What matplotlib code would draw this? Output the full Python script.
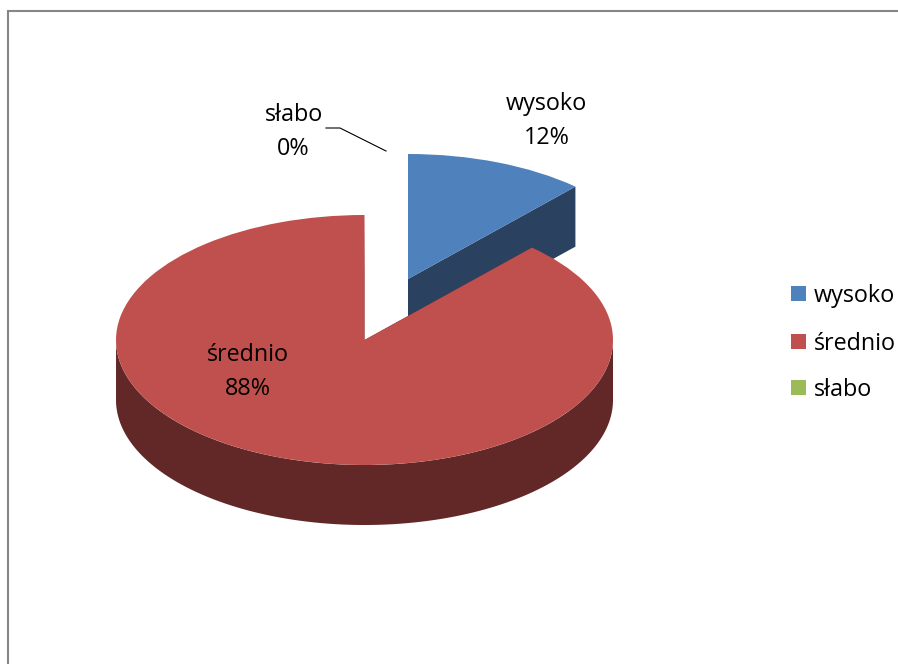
import numpy as np
import matplotlib
matplotlib.use("Agg")
import matplotlib.pyplot as plt
from matplotlib.patches import Wedge, Rectangle
from matplotlib.transforms import Affine2D

categories = ["wysoko", "średnio", "słabo"]
values = [2, 15, 0]

top_colors = ["#4F81BD", "#C0504D", "#9BBB59"]
side_colors = ["#2A4260", "#612827", "#51622F"]

plt.rcParams["font.family"] = ["Open Sans", "DejaVu Sans"]
W, H = 898, 664
fig = plt.figure(figsize=(W / 100, H / 100), dpi=100)
ax = fig.add_axes([0, 0, 1, 1])
ax.set_xlim(0, W)
ax.set_ylim(H, 0)
ax.axis("off")

RX, RY, DEPTH = 248.5, 125, 60
centers = [(408, 279), (364.5, 340), (386, 215)]
draw_order = [0, 2, 1]

fracs = np.array(values, dtype=float) / sum(values)
ends = np.cumsum(fracs) * 360
starts = ends - fracs * 360
percent_labels = [f"{round(f * 100)}%" for f in fracs]


def rim(cx, cy, t):
    r = np.radians(t)
    return cx + RX * np.sin(r), cy - RY * np.cos(r)


for i in draw_order:
    if values[i] == 0:
        continue
    cx, cy = centers[i]
    a, b = starts[i], ends[i]
    # side faces
    for t in (a, b):
        x, y = rim(cx, cy, t)
        ax.fill([cx, x, x, cx], [cy, y, y + DEPTH, cy + DEPTH],
                color=side_colors[i], lw=0, zorder=2 + i)
    # outer rim, front part only
    ts = np.linspace(a, b, 400)
    ts = ts[(ts % 360 > 90) & (ts % 360 < 270)]
    if ts.size:
        x, y = rim(cx, cy, ts)
        ax.fill(np.r_[x, x[::-1]], np.r_[y, y[::-1] + DEPTH],
                color=side_colors[i], lw=0, zorder=2 + i)
    # top face
    tr = Affine2D().scale(RX, -RY).translate(cx, cy) + ax.transData
    ax.add_patch(Wedge((0, 0), 1, 90 - b, 90 - a, transform=tr,
                       facecolor=top_colors[i], lw=0, zorder=2.5 + i))

# chart frame
ax.plot([7.5, 7.5, W + 2], [H + 2, 10.5, 10.5], color="#868686", lw=1.5,
        zorder=1, solid_joinstyle="miter", clip_on=True)

# data labels
FS = 16.8
label_pos = [(546.5, 104, 138), (247.5, 355, 389), (293.5, 115, 149)]
for name, pct, (x, y1, y2) in zip(categories, percent_labels, label_pos):
    ax.text(x, y1, name, ha="center", va="center", fontsize=FS, color="black", zorder=10)
    ax.text(x, y2, pct, ha="center", va="center", fontsize=FS, color="black", zorder=10)

# leader line for the zero slice
ax.plot([326, 340, 386], [128, 128, 151], color="black", lw=0.8, zorder=10)

# legend
legend_y = [293.5, 341.5, 387.5]
for name, col, y in zip(categories, top_colors, legend_y):
    ax.add_patch(Rectangle((791, y - 7.5), 15, 15, facecolor=col, lw=0, zorder=5))
    ax.text(814, y + 3, name, ha="left", va="center", fontsize=FS, color="black", zorder=10)

fig.savefig("out.png", dpi=100)
